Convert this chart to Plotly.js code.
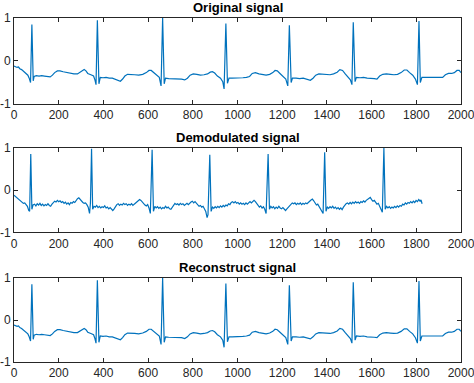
<!DOCTYPE html>
<html>
<head>
<meta charset="utf-8">
<script src="https://cdn.plot.ly/plotly-3.0.1.min.js"></script>
<style>html,body{margin:0;padding:0;background:#fff;}#chart{width:474px;height:383px;}</style>
</head>
<body>
<div id="chart"></div>
<script>
const titles = ["Original signal", "Demodulated signal", "Reconstruct signal"];
const xTicks = [0, 200, 400, 600, 800, 1000, 1200, 1400, 1600, 1800, 2000];
const yTicks = [-1, 0, 1];

const originalX = [0,8,14,20,26,34,44,54,62,68,74,80,86,90,100,112,124,136,150,162,172,182,194,206,220,236,252,268,284,296,306,314,322,330,344,356,362,367,373,380,386,398,412,426,440,452,464,476,486,496,508,522,540,558,576,592,604,614,624,636,650,658,665,672,678,692,706,720,736,750,764,776,788,802,818,834,850,866,878,888,898,910,924,934,940,948,955,962,976,992,1008,1024,1040,1054,1066,1080,1096,1112,1128,1144,1158,1168,1178,1190,1204,1216,1225,1232,1240,1246,1262,1278,1294,1310,1326,1338,1350,1364,1380,1398,1414,1430,1446,1458,1470,1482,1494,1505,1512,1518,1526,1532,1548,1564,1580,1596,1612,1624,1636,1650,1666,1684,1700,1716,1732,1746,1758,1770,1784,1796,1805,1812,1818,1825,1840,1856,1872,1888,1904,1918,1930,1944,1958,1970,1982,1992,2000];
const originalY = [-0.12,-0.14,-0.15,-0.14,-0.18,-0.20,-0.25,-0.29,-0.33,-0.40,-0.50,0.85,-0.46,-0.36,-0.34,-0.35,-0.34,-0.35,-0.36,-0.37,-0.33,-0.27,-0.23,-0.23,-0.25,-0.27,-0.29,-0.30,-0.30,-0.26,-0.21,-0.20,-0.23,-0.29,-0.32,-0.35,-0.44,-0.55,0.95,-0.53,-0.38,-0.39,-0.38,-0.40,-0.40,-0.42,-0.44,-0.47,-0.42,-0.35,-0.31,-0.31,-0.32,-0.33,-0.31,-0.27,-0.22,-0.22,-0.27,-0.33,-0.38,-0.58,1.0,-0.53,-0.40,-0.41,-0.41,-0.42,-0.41,-0.42,-0.44,-0.40,-0.33,-0.30,-0.31,-0.33,-0.32,-0.30,-0.26,-0.25,-0.28,-0.35,-0.40,-0.48,-0.65,0.87,-0.52,-0.40,-0.40,-0.40,-0.39,-0.39,-0.38,-0.36,-0.29,-0.27,-0.30,-0.32,-0.33,-0.31,-0.27,-0.22,-0.23,-0.29,-0.35,-0.42,-0.58,0.83,-0.50,-0.40,-0.40,-0.41,-0.40,-0.42,-0.45,-0.40,-0.33,-0.30,-0.31,-0.32,-0.32,-0.30,-0.26,-0.20,-0.22,-0.30,-0.37,-0.44,-0.55,0.90,-0.48,-0.38,-0.39,-0.38,-0.40,-0.40,-0.41,-0.42,-0.35,-0.31,-0.30,-0.31,-0.32,-0.31,-0.27,-0.21,-0.21,-0.27,-0.33,-0.42,-0.55,0.93,-0.50,-0.38,-0.38,-0.39,-0.38,-0.39,-0.39,-0.38,-0.32,-0.29,-0.29,-0.27,-0.22,-0.22,-0.27];

const demodX = [0,6,12,18,24,30,36,42,48,54,60,66,70,75,80,85,92,98,104,110,116,122,128,134,140,146,152,158,164,170,176,182,188,194,200,206,212,218,224,230,236,242,248,254,260,266,272,278,284,290,296,302,308,314,320,326,332,338,342,347,352,358,364,370,376,382,388,394,400,406,412,418,424,430,436,442,448,454,460,466,472,478,484,490,496,502,508,514,520,526,532,538,544,550,556,562,568,574,580,586,592,598,604,610,618,624,630,636,642,648,654,660,666,672,678,684,690,696,702,708,714,720,726,732,738,744,750,756,762,768,774,780,786,792,798,804,810,816,822,828,834,840,846,852,858,864,868,876,882,888,894,900,906,912,918,924,930,936,942,948,954,960,966,972,978,984,990,996,1002,1008,1014,1020,1026,1032,1038,1044,1050,1056,1062,1068,1074,1080,1086,1092,1098,1104,1110,1116,1122,1128,1137,1143,1149,1155,1161,1167,1173,1179,1185,1191,1197,1203,1209,1215,1221,1227,1233,1239,1245,1251,1257,1263,1269,1275,1281,1287,1293,1299,1305,1311,1317,1323,1329,1335,1341,1347,1353,1359,1365,1371,1377,1383,1390,1396,1402,1408,1414,1420,1426,1432,1438,1444,1450,1456,1462,1468,1474,1480,1486,1492,1498,1504,1510,1516,1522,1528,1534,1540,1546,1552,1558,1564,1570,1576,1582,1588,1594,1600,1606,1612,1618,1624,1630,1636,1642,1648,1655,1661,1667,1673,1679,1685,1691,1697,1703,1709,1715,1721,1727,1733,1739,1745,1751,1757,1763,1769,1775,1781,1787,1793,1799,1805,1811,1817,1821,1826];
const demodY = [-0.12,-0.15,-0.17,-0.20,-0.22,-0.27,-0.28,-0.31,-0.30,-0.33,-0.38,-0.48,-0.50,0.86,-0.45,-0.35,-0.33,-0.37,-0.32,-0.35,-0.31,-0.36,-0.33,-0.37,-0.34,-0.36,-0.32,-0.36,-0.38,-0.33,-0.30,-0.26,-0.28,-0.24,-0.27,-0.25,-0.29,-0.27,-0.31,-0.28,-0.33,-0.30,-0.34,-0.29,-0.31,-0.27,-0.29,-0.23,-0.20,-0.18,-0.22,-0.25,-0.29,-0.31,-0.30,-0.34,-0.40,-0.55,-0.30,0.98,-0.45,-0.38,-0.40,-0.36,-0.41,-0.38,-0.42,-0.39,-0.41,-0.37,-0.42,-0.40,-0.44,-0.41,-0.46,-0.48,-0.44,-0.38,-0.34,-0.32,-0.36,-0.33,-0.35,-0.31,-0.34,-0.32,-0.36,-0.33,-0.35,-0.32,-0.36,-0.33,-0.30,-0.27,-0.25,-0.22,-0.24,-0.28,-0.30,-0.35,-0.37,-0.34,-0.42,-0.55,0.96,-0.50,-0.38,-0.42,-0.39,-0.43,-0.40,-0.44,-0.41,-0.43,-0.38,-0.42,-0.40,-0.44,-0.45,-0.40,-0.34,-0.31,-0.34,-0.32,-0.35,-0.31,-0.34,-0.32,-0.36,-0.33,-0.31,-0.34,-0.30,-0.28,-0.26,-0.30,-0.27,-0.31,-0.35,-0.38,-0.36,-0.40,-0.38,-0.43,-0.50,-0.65,-0.58,0.84,-0.50,-0.40,-0.43,-0.39,-0.42,-0.38,-0.41,-0.37,-0.40,-0.36,-0.39,-0.35,-0.37,-0.32,-0.34,-0.29,-0.27,-0.30,-0.27,-0.31,-0.29,-0.33,-0.30,-0.33,-0.31,-0.34,-0.30,-0.33,-0.30,-0.27,-0.30,-0.26,-0.24,-0.27,-0.32,-0.36,-0.40,-0.37,-0.42,-0.39,-0.45,-0.55,0.86,-0.45,-0.38,-0.42,-0.39,-0.44,-0.40,-0.43,-0.38,-0.42,-0.44,-0.41,-0.46,-0.48,-0.44,-0.40,-0.36,-0.33,-0.30,-0.32,-0.30,-0.34,-0.31,-0.33,-0.30,-0.34,-0.31,-0.33,-0.30,-0.32,-0.28,-0.26,-0.23,-0.21,-0.25,-0.30,-0.35,-0.33,-0.38,-0.42,-0.50,-0.55,0.90,-0.50,-0.40,-0.43,-0.39,-0.42,-0.38,-0.43,-0.40,-0.44,-0.41,-0.45,-0.42,-0.46,-0.40,-0.35,-0.32,-0.30,-0.33,-0.29,-0.32,-0.28,-0.31,-0.27,-0.30,-0.28,-0.31,-0.27,-0.29,-0.25,-0.28,-0.24,-0.22,-0.18,-0.17,-0.22,-0.26,-0.24,-0.30,-0.33,-0.31,-0.38,-0.44,-0.52,1.0,-0.45,-0.38,-0.42,-0.39,-0.43,-0.40,-0.42,-0.38,-0.41,-0.37,-0.40,-0.36,-0.38,-0.33,-0.35,-0.30,-0.33,-0.29,-0.31,-0.27,-0.30,-0.26,-0.29,-0.24,-0.27,-0.22,-0.26,-0.23,-0.32];

const reconstructX = originalX;
const reconstructY = originalY;

const lineColor = '#0072BD';
const axisColor = '#262626';
const font = {family: 'Arial, "Liberation Sans", Helvetica, sans-serif', size: 12, color: axisColor};

const series = [[originalX, originalY], [demodX, demodY], [reconstructX, reconstructY]];
const domains = [[0.7285, 0.953], [0.393, 0.6136], [0.0548, 0.274]];
const titleY = [375, 245.5, 115.5];

const data = series.map((s, i) => ({
  x: s[0], y: s[1], type: 'scatter', mode: 'lines',
  line: {color: lineColor, width: 1.2},
  xaxis: i === 0 ? 'x' : 'x' + (i + 1),
  yaxis: i === 0 ? 'y' : 'y' + (i + 1),
  hoverinfo: 'skip'
}));

const layout = {
  width: 474, height: 383,
  margin: {l: 14, r: 13, t: 0, b: 0},
  paper_bgcolor: '#fff', plot_bgcolor: '#fff',
  showlegend: false, font: font,
  annotations: titles.map((t, i) => ({
    text: '<b>' + t + '</b>', xref: 'paper', yref: 'paper',
    x: 0.5, y: titleY[i] / 383, yanchor: 'middle', xanchor: 'center',
    showarrow: false, font: {family: font.family, size: 13, color: '#000'}
  }))
};

for (let i = 0; i < 3; i++) {
  const sx = i === 0 ? '' : String(i + 1);
  layout['xaxis' + sx] = {
    anchor: 'y' + sx, domain: [0, 1], range: [0, 2000],
    tickvals: xTicks, ticktext: xTicks.map(String),
    ticks: 'inside', ticklen: 4, tickcolor: axisColor, tickwidth: 1,
    showline: true, linecolor: axisColor, linewidth: 1, mirror: 'ticks',
    showgrid: false, zeroline: false, automargin: false, fixedrange: true,
    ticklabeloverflow: 'allow', tickfont: font
  };
  layout['yaxis' + sx] = {
    anchor: 'x' + sx, domain: domains[i], range: [-1, 1],
    tickvals: yTicks, ticktext: yTicks.map(String),
    ticks: 'inside', ticklen: 4, tickcolor: axisColor, tickwidth: 1,
    showline: true, linecolor: axisColor, linewidth: 1, mirror: 'ticks',
    showgrid: false, zeroline: false, automargin: false, fixedrange: true,
    ticklabeloverflow: 'allow', tickfont: font
  };
}

Plotly.newPlot('chart', data, layout, {displayModeBar: false, staticPlot: true});
</script>
</body>
</html>
